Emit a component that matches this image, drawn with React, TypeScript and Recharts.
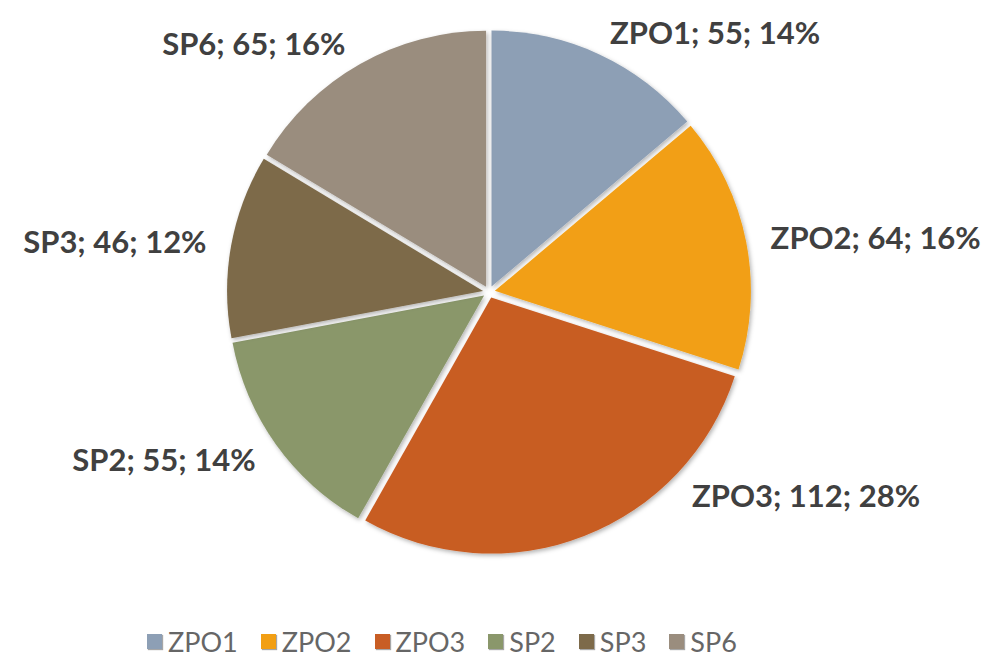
import React from 'react';
import { PieChart, Pie, Cell, Sector, Legend } from 'recharts';

const categories = ['ZPO1', 'ZPO2', 'ZPO3', 'SP2', 'SP3', 'SP6'];
const values = [55, 64, 112, 55, 46, 65];
const colors = ['#8D9FB5', '#F29F14', '#C85D24', '#8A976B', '#7D6A4A', '#9A8D7E'];

// where Excel moved a label off the slice mid-line (degrees clockwise from 12 o'clock)
const labelAngleOverride: Record<string, number> = { ZPO3: 135, SP6: 330 };

const data = categories.map((name, i) => ({ name, value: values[i] }));
const total = values.reduce((a, b) => a + b, 0);

const RAD = Math.PI / 180;
const EXPLODE = 6;

const ExplodedSector = (props: any) => {
  const { cx, cy, midAngle, ...rest } = props;
  const dx = Math.cos(-midAngle * RAD) * EXPLODE;
  const dy = Math.sin(-midAngle * RAD) * EXPLODE;
  return <Sector {...rest} cx={cx + dx} cy={cy + dy} stroke="none" filter="url(#sliceShadow)" />;
};

const renderLabel = (props: any) => {
  const { cx, cy, midAngle, outerRadius, name, value } = props;
  const override = labelAngleOverride[name];
  const angle = override !== undefined ? 90 - override : midAngle;
  const r = outerRadius + 31;
  const x = cx + Math.cos(-angle * RAD) * r;
  const y = cy + Math.sin(-angle * RAD) * r;
  const pct = Math.round((value / total) * 100);
  return (
    <text
      x={x}
      y={y}
      textAnchor={Math.cos(-angle * RAD) >= 0 ? 'start' : 'end'}
      dominantBaseline="central"
      fill="#404040"
      fontSize={31}
      fontWeight="bold"
      fontFamily="Lato, 'Noto Sans', sans-serif"
    >
      {`${name}; ${value}; ${pct}%`}
    </text>
  );
};

const renderLegend = () => (
  <div style={{ display: 'flex', alignItems: 'center', fontFamily: "Lato, 'Noto Sans', sans-serif" }}>
    {categories.map((name, i) => (
      <div key={name} style={{ display: 'flex', alignItems: 'center', marginRight: 23 }}>
        <span
          style={{
            display: 'inline-block',
            width: 15,
            height: 15,
            background: colors[i],
            marginRight: 6,
            boxShadow: '1px 1px 1px rgba(0,0,0,0.35)',
          }}
        />
        <span style={{ fontSize: 27, color: '#666666' }}>{name}</span>
      </div>
    ))}
  </div>
);

export default function App() {
  return (
    <div style={{ position: 'absolute', left: 0, top: 0, width: 987, height: 662, background: '#fff' }}>
      <PieChart width={987} height={662} margin={{ top: 0, right: 0, bottom: 0, left: 0 }}>
        <defs>
          <filter id="sliceShadow" x="-20%" y="-20%" width="140%" height="140%">
            <feDropShadow dx="1.5" dy="2" stdDeviation="2" floodColor="#000" floodOpacity="0.3" />
          </filter>
        </defs>
        <Pie
          data={data}
          dataKey="value"
          nameKey="name"
          cx={489}
          cy={292}
          outerRadius={256}
          startAngle={90}
          endAngle={-270}
          isAnimationActive={false}
          shape={ExplodedSector}
          label={renderLabel}
          labelLine={false}
        >
          {data.map((d, i) => (
            <Cell key={d.name} fill={colors[i]} />
          ))}
        </Pie>
        <Legend
          verticalAlign="bottom"
          content={renderLegend}
          wrapperStyle={{ left: 147, bottom: 4, width: 'auto' }}
        />
      </PieChart>
    </div>
  );
}
